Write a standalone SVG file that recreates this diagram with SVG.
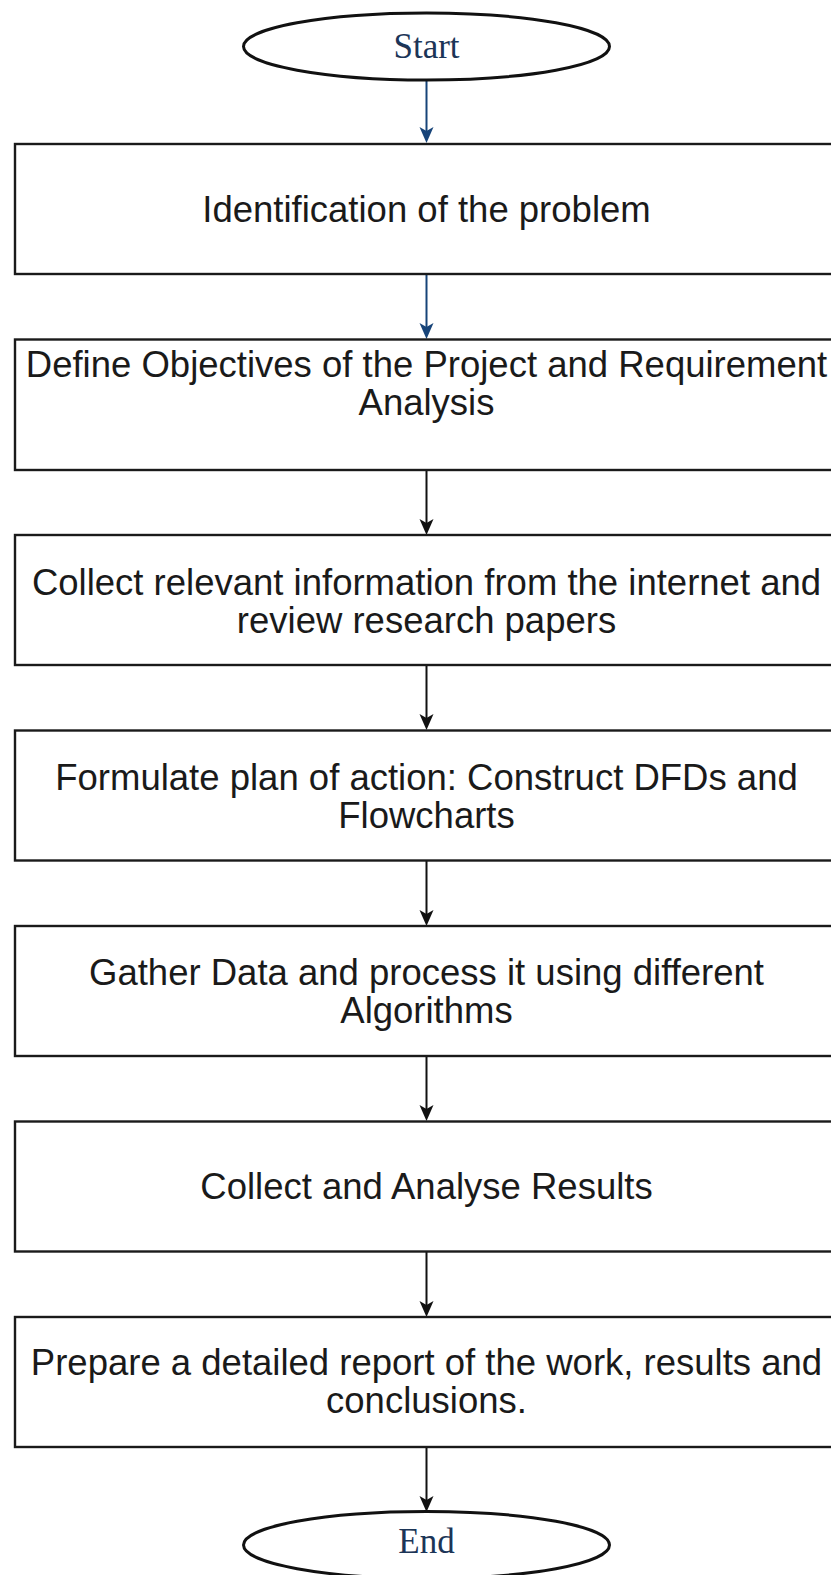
<svg xmlns="http://www.w3.org/2000/svg" width="831" height="1575" viewBox="0 0 831 1575">
  <style>
    .box { fill: #ffffff; stroke: #1a1a1a; stroke-width: 2.4; }
    .term { fill: #ffffff; stroke: #111111; stroke-width: 3; }
    .lbl { font-family: "Liberation Sans", Arial, sans-serif; font-size: 36.5px; fill: #1a1a1a; text-anchor: middle; }
    .tlbl { font-family: "Liberation Serif", "Times New Roman", serif; font-size: 35px; fill: #1c3557; text-anchor: middle; }
    .edge-blue { stroke: #174479; stroke-width: 2; fill: none; }
    .edge-dark { stroke: #111111; stroke-width: 2; fill: none; }
    .head-blue { fill: #174479; }
    .head-dark { fill: #111111; }
  </style>
  <rect width="831" height="1575" fill="#ffffff"/>

  <!-- vertical flow lines with their arrowheads -->
  <g id="connectors">
    <path class="edge-blue" d="M426.5,80 V136"/>
    <path class="edge-blue" d="M426.5,274 V332"/>
    <path class="edge-dark" d="M426.5,470 V528"/>
    <path class="edge-dark" d="M426.5,665 V723"/>
    <path class="edge-dark" d="M426.5,860 V919"/>
    <path class="edge-dark" d="M426.5,1056 V1114"/>
    <path class="edge-dark" d="M426.5,1251 V1310"/>
    <path class="edge-dark" d="M426.5,1447 V1505"/>
    <path class="head-blue" d="M419.5,127 L426.5,131 L433.5,127 L426.5,143 Z"/>
    <path class="head-blue" d="M419.5,323 L426.5,327 L433.5,323 L426.5,339 Z"/>
    <path class="head-dark" d="M419.5,519 L426.5,523 L433.5,519 L426.5,535 Z"/>
    <path class="head-dark" d="M419.5,714 L426.5,718 L433.5,714 L426.5,730 Z"/>
    <path class="head-dark" d="M419.5,910 L426.5,914 L433.5,910 L426.5,926 Z"/>
    <path class="head-dark" d="M419.5,1105 L426.5,1109 L433.5,1105 L426.5,1121 Z"/>
    <path class="head-dark" d="M419.5,1301 L426.5,1305 L433.5,1301 L426.5,1317 Z"/>
    <path class="head-dark" d="M419.5,1496 L426.5,1500 L433.5,1496 L426.5,1512 Z"/>
  </g>

  <g id="start">
    <ellipse class="term" cx="426.5" cy="46.5" rx="183" ry="33.5"/>
    <text class="tlbl" x="426.5" y="58">Start</text>
  </g>

  <g id="step1">
    <rect class="box" x="15" y="144" width="840" height="130"/>
    <text class="lbl" x="426.5" y="222">Identification of the problem</text>
  </g>

  <g id="step2">
    <rect class="box" x="15" y="339.5" width="840" height="130.5"/>
    <text class="lbl" x="426.5" y="377">Define Objectives of the Project and Requirement</text>
    <text class="lbl" x="426.5" y="415">Analysis</text>
  </g>

  <g id="step3">
    <rect class="box" x="15" y="535" width="840" height="130"/>
    <text class="lbl" x="426.5" y="595">Collect relevant information from the internet and</text>
    <text class="lbl" x="426.5" y="633">review research papers</text>
  </g>

  <g id="step4">
    <rect class="box" x="15" y="730.5" width="840" height="130"/>
    <text class="lbl" x="426.5" y="790">Formulate plan of action: Construct DFDs and</text>
    <text class="lbl" x="426.5" y="828">Flowcharts</text>
  </g>

  <g id="step5">
    <rect class="box" x="15" y="926" width="840" height="130"/>
    <text class="lbl" x="426.5" y="985">Gather Data and process it using different</text>
    <text class="lbl" x="426.5" y="1023">Algorithms</text>
  </g>

  <g id="step6">
    <rect class="box" x="15" y="1121.5" width="840" height="130"/>
    <text class="lbl" x="426.5" y="1199">Collect and Analyse Results</text>
  </g>

  <g id="step7">
    <rect class="box" x="15" y="1317" width="840" height="130"/>
    <text class="lbl" x="426.5" y="1375">Prepare a detailed report of the work, results and</text>
    <text class="lbl" x="426.5" y="1413">conclusions.</text>
  </g>

  <g id="end">
    <ellipse class="term" cx="426.5" cy="1545" rx="183" ry="33.5"/>
    <text class="tlbl" x="426.5" y="1553">End</text>
  </g>
</svg>
